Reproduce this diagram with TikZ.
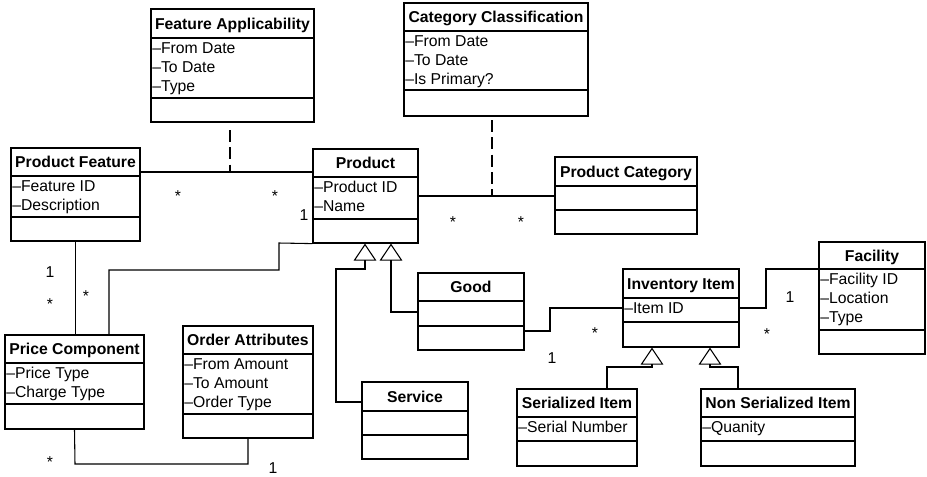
\documentclass[tikz,border=0pt]{standalone}
\usepackage{fontspec}
\setmainfont{Liberation Sans}
\usepackage{tikz}
\usetikzlibrary{calc,arrows.meta,fit}

\begin{document}
\begin{tikzpicture}[x=0.75pt,y=-0.75pt,
  classbox/.style={draw,line width=0.9pt,inner sep=0pt},
  titletext/.style={font=\fontsize{11.8}{13.9}\selectfont\bfseries,inner sep=0pt},
  attrtext/.style={font=\fontsize{11.8}{13.9}\selectfont,inner sep=0pt,xshift=0.8pt},
  mult/.style={font=\fontsize{11.8}{13.9}\selectfont,inner sep=0pt},
  link/.style={line width=0.8pt},
  linkdash/.style={line width=0.8pt,dash pattern=on 9pt off 4pt},
  gen/.style={line width=0.8pt,-{Triangle[open,length=12.75pt,width=17pt]}}]
  \useasboundingbox (0,0) rectangle (927,476);
  \foreach \n/\xa/\ya/\xb/\yb/\da/\db/\ttl/\atts in {
     fa/151/9/314/122/38/98/{Feature Applicability}/{–From Date,–To Date,–Type},
     cc/404/3/588/116/31/90/{Category Classification}/{–From Date,–To Date,–Is Primary?},
     pf/11/148/140/241/176/217/{Product Feature}/{–Feature ID,–Description},
     prod/313/149/418/243/177/219/{Product}/{–Product ID,–Name},
     pcat/555/157/697/234/186/210/{Product Category}/{},
     pc/5/335/144/429/363/404/{Price Component}/{–Price Type,–Charge Type},
     oa/183/326/313/438/354/414/{Order Attributes}/{–From Amount,–To Amount,–Order Type},
     svc/362/382/468/459/411/435/{Service}/{},
     good/418/273/524/350/301/326/{Good}/{},
     inv/623/269/739/347/298/322/{Inventory Item}/{–Item ID},
     fac/819/242/925/354/269/330/{Facility}/{–Facility ID,–Location,–Type},
     ser/517/389/637/466/417/441/{Serialized Item}/{–Serial Number},
     nser/701/389/855/466/417/441/{Non Serialized Item}/{–Quanity}}{
     \node[classbox,fit={(\xa,\ya) (\xb,\yb)}] (\n) {};
     \draw[line width=1.1pt] (\xa,\da) -- (\xb,\da);
     \draw[line width=1.4pt] (\xa,\db) -- (\xb,\db);
     \node[titletext,anchor=base] (\n-t) at ({(\xa+\xb)/2},{(\ya+\da)/2+5.6}) {\ttl};
     \foreach \a [count=\i] in \atts
        \node[attrtext,anchor=base west] (\n-a\i) at (\xa,{\da+15.5+18.8*(\i-1)}) {\a};
  }
  \coordinate (fa-s) at (230,130);
  \coordinate (fa-j) at (230,172);
  \coordinate (cc-s) at (492,120);
  \coordinate (cc-j) at (492,196);
  \draw[link] (pf.east |- fa-j) -- (prod.west |- fa-j);
  \draw[linkdash] (fa-s) -- (fa-j);
  \draw[link] (prod.east |- cc-j) -- (pcat.west |- cc-j);
  \draw[linkdash] (cc-s) -- (cc-j);
  \draw[link] (pf.south) -- (pf.south |- pc.north);
  \coordinate (pp1) at (109,270);
  \coordinate (pp2) at (279,243);
  \draw[link] (pc.north -| pp1) -- (pp1) -| (pp2) -- (prod.south west);
  \coordinate (po) at (75,464);
  \draw[link] (pc.south) -- (po) -| (oa.south);
  \coordinate (g1) at (365,269);
  \coordinate (sv) at (336,402);
  \draw[gen] (svc.west |- sv) -- (sv) |- (g1) -- (g1 |- prod.south);
  \coordinate (g2) at (391,312);
  \draw[gen] (good.west |- g2) -- (g2) -- (g2 |- prod.south);
  \coordinate (gi) at (550,331);
  \draw[link] (good.east |- gi) -- (gi) |- (inv.west);
  \coordinate (if) at (766,269);
  \draw[link] (inv.east) -| (if) -- (fac.west |- if);
  \coordinate (sr) at (607,367);
  \coordinate (g3) at (652,367);
  \draw[gen] (ser.north -| sr) -- (sr) -- (g3) -- (g3 |- inv.south);
  \coordinate (ns) at (738,367);
  \coordinate (g4) at (710,367);
  \draw[gen] (nser.north -| ns) -- (ns) -- (g4) -- (g4 |- inv.south);
  \foreach \x/\y/\t [count=\k] in {178/196.4/*,275/196.4/*,304/215/1,453/222.4/*,521/222.4/*,
     50/272/1,50/304.4/*,86/296.4/*,50/462.4/*,273/468.5/1,
     595/333.4/*,552/358/1,790/297/1,767/334.4/*}
     \node[mult] (m\k) at (\x,\y) {\t};
\end{tikzpicture}
\end{document}
